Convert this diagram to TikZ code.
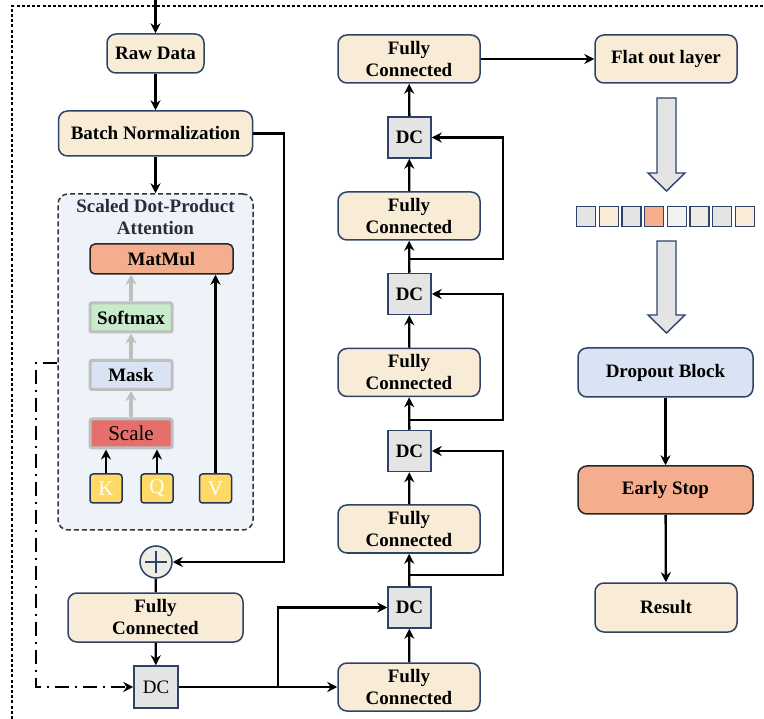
\documentclass[tikz,border=0pt]{standalone}
\usepackage{fontspec}
\setmainfont{Liberation Serif}
\usetikzlibrary{arrows.meta,calc}
\definecolor{cream}{HTML}{F8ECD6}
\definecolor{navy}{HTML}{2E4369}
\definecolor{dcgray}{HTML}{E4E4E4}
\definecolor{salmon}{HTML}{F4AE8E}
\definecolor{maskblue}{HTML}{DAE3F3}
\definecolor{softgreen}{HTML}{C8EBCB}
\definecolor{scalered}{HTML}{E5706B}
\definecolor{gold}{HTML}{FFD966}
\definecolor{plusfill}{HTML}{EDEDE3}
\definecolor{attfill}{HTML}{EEF2F9}
\definecolor{garrow}{HTML}{BFBFBF}
\definecolor{sqlight}{HTML}{F2F2F2}
\definecolor{titlecol}{HTML}{2B2B3B}
\begin{document}
\begin{tikzpicture}[x=1pt,y=-1pt,
  bigfont/.style={font=\fontsize{19}{22}\selectfont\bfseries},
  box/.style={bigfont, draw=navy, line width=1.5pt, fill=cream, rounded corners=9pt,
    align=center, inner sep=0pt},
  fcbox/.style={box, minimum width=142pt, minimum height=48pt},
  dcbox/.style={draw=navy, line width=1.5pt, fill=dcgray, minimum width=43pt,
    minimum height=41pt, inner sep=0pt, bigfont},
  inbox/.style={draw=garrow, line width=3pt, minimum width=82pt, minimum height=29pt,
    inner sep=0pt, rounded corners=2pt, bigfont},
  kqv/.style={draw=navy!80!black, line width=1.5pt, fill=gold, rounded corners=3pt,
    minimum width=32pt, minimum height=29pt, inner sep=0pt, text=white,
    font=\fontsize{21}{21}\selectfont},
  arr/.style={-{Stealth[length=10pt,width=10pt]}, line width=2.3pt, black},
  plain/.style={line width=2.3pt, black},
  garr/.style={-{Stealth[length=10pt,width=11pt]}, line width=3.6pt, garrow},
  dashdot/.style={dash pattern=on 14pt off 6pt on 2pt off 6pt},
  sq/.style={draw=navy, line width=1.4pt, minimum width=19pt, minimum height=20pt, inner sep=0pt},
  blockarrow/.style={draw=navy, line width=1.4pt, fill=dcgray, line join=miter}
]
\useasboundingbox (0,0) rectangle (764,719);

% outer dotted frame
\draw[line width=2pt, dash pattern=on 3pt off 2.2pt] (12,719) -- (12,6) -- (764,6);

% left column
\coordinate (in) at (155.5,0);
\node[box, minimum width=97pt, minimum height=39pt] (raw) at (155.5,53.5) {Raw Data};
\node[box, minimum width=194pt, minimum height=45pt] (bn) at (155.5,133.5) {Batch Normalization};

\node[draw=black!80, line width=1.5pt, dash pattern=on 5pt off 3pt, fill=attfill, rounded corners=10pt,
  minimum width=195pt, minimum height=336pt, inner sep=0pt] (att) at (155.5,362) {};
\node[bigfont, text=titlecol, align=center] (ttl) at (155.5,217) {Scaled Dot-Product\\Attention};

\node[draw=black!85, line width=1.5pt, fill=salmon, rounded corners=5pt, minimum width=143pt,
  minimum height=30pt, inner sep=0pt, bigfont] (mm) at (161.5,259) {MatMul};
\node[inbox, fill=softgreen] (sm) at (131,317.5) {Softmax};
\node[inbox, fill=maskblue] (mask) at (131,375) {Mask};
\node[inbox, fill=scalered, font=\fontsize{21}{21}\selectfont] (scale) at (131,433.5) {Scale};

\node[kqv] (k) at (106,488.5) {K};
\node[kqv] (q) at (157,488.5) {Q};
\node[kqv] (v) at (215.5,488.5) {V};

\node[circle, draw=navy, line width=1.5pt, fill=plusfill, minimum size=32pt, inner sep=0pt,
  path picture={
    \draw[line width=1.6pt] ([xshift=-11pt]path picture bounding box.center) -- ([xshift=11pt]path picture bounding box.center);
    \draw[line width=1.6pt] ([yshift=-11pt]path picture bounding box.center) -- ([yshift=11pt]path picture bounding box.center);
  }] (plus) at (156,562) {};

\node[box, minimum width=175pt, minimum height=49pt] (fc1) at (155.5,617.5) {Fully\\Connected};
\node[draw=navy, line width=1.5pt, fill=dcgray, minimum width=44pt, minimum height=42pt,
  inner sep=0pt, font=\fontsize{19}{22}\selectfont] (dc1) at (156,687) {DC};

% middle column
\node[fcbox] (fc3) at (409,687) {Fully\\Connected};
\node[dcbox] (dc3) at (409.5,607.5) {DC};
\node[fcbox] (fc4) at (409,529) {Fully\\Connected};
\node[dcbox] (dc4) at (409.5,451) {DC};
\node[fcbox] (fc5) at (409,372.5) {Fully\\Connected};
\node[dcbox] (dc5) at (409.5,294) {DC};
\node[fcbox] (fc6) at (409,216) {Fully\\Connected};
\node[dcbox] (dc6) at (409.5,137.5) {DC};
\node[fcbox] (fc7) at (409,59) {Fully\\Connected};

% right column
\node[fcbox] (flat) at (666,59) {Flat out layer};
\foreach \i/\c in {0/dcgray,1/cream,2/dcgray,3/salmon,4/sqlight,5/plusfill,6/dcgray,7/cream}{
  \node[sq, fill=\c] (s\i) at ({586+22.7*\i},216.5) {};
}
\node[box, fill=maskblue, minimum width=175pt, minimum height=49pt] (drop) at (665.5,372.5) {Dropout Block};
\node[box, fill=salmon, draw=black!85, minimum width=175pt, minimum height=48pt] (early) at (665.5,490) {Early Stop};
\node[box, minimum width=142pt, minimum height=49pt] (res) at (666,607.5) {Result};

% block arrows
\draw[blockarrow] (657,98) -- (676,98) -- (676,173) -- (685,173) -- (666.5,191) -- (648,173) -- (657,173) -- cycle;
\draw[blockarrow] (657,241) -- (676,241) -- (676,315) -- (685,315) -- (666.5,333) -- (648,315) -- (657,315) -- cycle;

% connectors left
\draw[arr] (in) -- (raw);
\draw[arr] (raw) -- (bn);
\draw[arr] (bn) -- (att.north);
\draw[arr] (bn.east) -- ++(31,0) |- (plus.east);
\draw[plain] (plus) -- (fc1);
\draw[arr] (fc1) -- (dc1);
\draw[arr] (k) -- (k |- scale.south);
\draw[arr] (q) -- (q |- scale.south);
\draw[arr] (v) -- (v |- mm.south);
\draw[garr] (scale) -- (mask);
\draw[garr] (mask) -- (sm);
\draw[garr] (sm.north) -- (sm.north |- mm.south);
\draw[arr, dashdot] (att.west |- 0,363) -- (36,363) |- (dc1.west);

% connectors to middle column
\coordinate (j0) at (278,687);
\draw[arr] (dc1.east) -- (fc3.west);
\draw[arr] (j0) |- (dc3.west);
\draw[arr] (fc3) -- (dc3);
\draw[arr] (dc3) -- (fc4);
\draw[arr] (fc4) -- (dc4);
\draw[arr] (dc4) -- (fc5);
\draw[arr] (fc5) -- (dc5);
\draw[arr] (dc5) -- (fc6);
\draw[arr] (fc6) -- (dc6);
\draw[arr] (dc6) -- (fc7);

\coordinate (j1) at (409,575);
\coordinate (j2) at (409,420);
\coordinate (j3) at (409,259);
\draw[arr] (j1) -- (503,575) |- (dc4.east);
\draw[arr] (j2) -- (503,420) |- (dc5.east);
\draw[arr] (j3) -- (503,259) |- (dc6.east);

% right connectors
\draw[arr] (fc7.east) -- (flat.west);
\draw[arr] (drop) -- (early);
\draw[arr] (early) -- (res);
\end{tikzpicture}
\end{document}
